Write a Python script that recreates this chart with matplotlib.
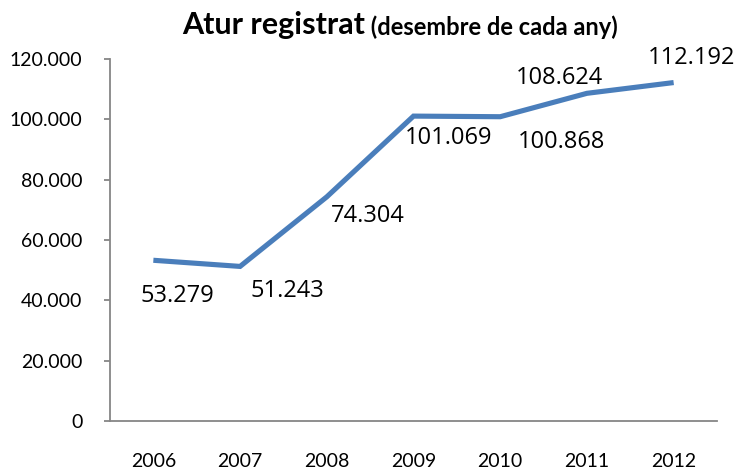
import matplotlib
matplotlib.use("Agg")
import matplotlib.pyplot as plt
from matplotlib.ticker import FuncFormatter

# Dades
YEARS = ["2006", "2007", "2008", "2009", "2010", "2011", "2012"]
UNEMPLOYED = [53279, 51243, 74304, 101069, 100868, 108624, 112192]
Y_TICKS = [0, 20000, 40000, 60000, 80000, 100000, 120000]

# Desplacament de les etiquetes (pixels) respecte al punt
LABEL_OFFSETS = [(24, -36), (47, -25), (41, -19), (35, -22), (61, -25), (-27, 15), (18, 25)]

LINE_COLOR = "#4A7EBB"
AXIS_COLOR = "#868686"


def thousands(v, pos=None):
    return f"{int(v):,}".replace(",", ".")


fig = plt.figure(figsize=(7.38, 4.70), dpi=100, facecolor="white")
ax = fig.add_axes([110 / 738, 49 / 470, 607 / 738, 362 / 470])

x = list(range(len(YEARS)))
ax.plot(x, UNEMPLOYED, color=LINE_COLOR, linewidth=3.7, solid_capstyle="butt",
        solid_joinstyle="miter")

ax.set_xlim(-0.5, len(YEARS) - 0.5)
ax.set_ylim(0, 120000)
ax.set_yticks(Y_TICKS)
ax.yaxis.set_major_formatter(FuncFormatter(thousands))
ax.set_xticks(x)
ax.set_xticklabels(YEARS)

for side in ["top", "right"]:
    ax.spines[side].set_visible(False)
for side in ["left", "bottom"]:
    ax.spines[side].set_color(AXIS_COLOR)
    ax.spines[side].set_linewidth(1.3)

ax.tick_params(axis="y", length=4.3, width=1.3, color=AXIS_COLOR, pad=15.5,
               labelsize=14)
ax.tick_params(axis="x", length=0, pad=23, labelsize=14)
for lbl in ax.get_xticklabels() + ax.get_yticklabels():
    lbl.set_family("Lato")

# Etiquetes de dades
for xi, v, (dx, dy) in zip(x, UNEMPLOYED, LABEL_OFFSETS):
    ax.annotate(thousands(v), xy=(xi, v), xytext=(dx, dy), textcoords="offset pixels",
                ha="center", va="center", fontsize=17, family="Open Sans", color="black")

# Titol
t1 = fig.text(182 / 738, 1 - 34 / 470, "Atur registrat", fontsize=22, fontweight="bold",
              family="Lato", ha="left", va="baseline")
fig.canvas.draw()
ax.annotate(" (desembre de cada any)", xy=(1, 0), xycoords=t1, xytext=(0, 0),
            textcoords="offset points", fontsize=17, fontweight="bold", family="Lato",
            ha="left", va="bottom", annotation_clip=False)

fig.savefig("out.png", dpi=100, facecolor="white")
